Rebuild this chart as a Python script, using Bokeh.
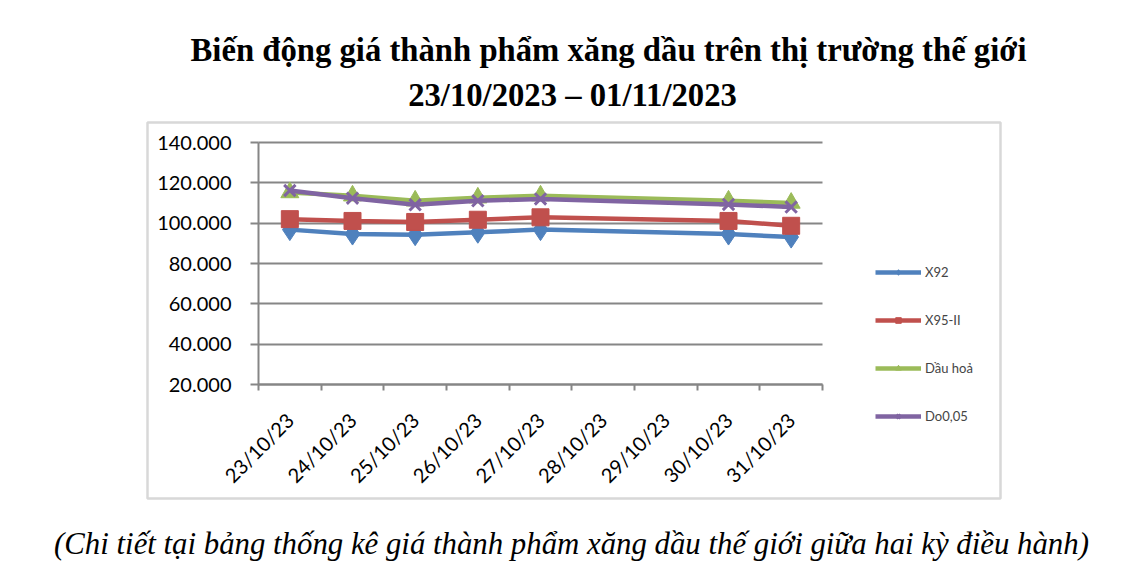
from bokeh.plotting import figure
from bokeh.models import (Range1d, FixedTicker, NumeralTickFormatter, Label, Legend,
                          LegendItem, BoxAnnotation)
from bokeh.embed import file_html
from bokeh.resources import INLINE

# --- data ---
dates = ["23/10/23", "24/10/23", "25/10/23", "26/10/23", "27/10/23",
         "28/10/23", "29/10/23", "30/10/23", "31/10/23"]
trade_days = ["23/10/23", "24/10/23", "25/10/23", "26/10/23", "27/10/23",
              "30/10/23", "31/10/23"]
x92 = [96.8, 94.6, 94.3, 95.5, 96.8, 94.6, 93.1]
x95 = [102.0, 101.1, 100.6, 101.7, 102.9, 101.1, 98.7]
dau_hoa = [115.2, 113.6, 111.1, 112.6, 113.6, 111.1, 110.0]
do005 = [116.2, 112.4, 109.1, 111.1, 112.0, 109.3, 108.0]
y_ticks = [20, 40, 60, 80, 100, 120, 140]

title1 = "Biến động giá thành phẩm xăng dầu trên thị trường thế giới"
title2 = "23/10/2023 \u2013 01/11/2023"
caption = "(Chi tiết tại bảng thống kê giá thành phẩm xăng dầu thế giới giữa hai kỳ điều hành)"

# page layout in pixels (frame = whole canvas, axes pinned inside it)
W, H = 1131, 565
PLOT_L, PLOT_R, PLOT_T, PLOT_B = 258, 822, 142, 384
BOX_L, BOX_R, BOX_T, BOX_B = 147, 1000, 122, 498
Y0, Y1 = y_ticks[0], y_ticks[-1]
N = len(dates)

GRID = "#868686"
SERIF = "Liberation Serif"
SANS = "Lato"

px_x = (PLOT_R - PLOT_L) / N
px_y = (PLOT_B - PLOT_T) / (Y1 - Y0)

p = figure(width=W, height=H, output_backend="svg", toolbar_location=None,
           x_range=Range1d(-PLOT_L / px_x, N + (W - PLOT_R) / px_x),
           y_range=Range1d(Y0 - (H - PLOT_B) / px_y, Y1 + PLOT_T / px_y),
           min_border=0)
p.outline_line_color = None


# page pixel -> data coordinate, for the texts and the box around the chart
def fx(px):
    return (px - PLOT_L) / px_x


def fy(py):
    return Y1 - (py - PLOT_T) / px_y


centers = [i + 0.5 for i in range(N)]
p.xaxis.fixed_location = Y0
p.xaxis.bounds = (0, N)
p.xaxis.ticker = FixedTicker(ticks=centers, minor_ticks=list(range(N + 1)))
p.xaxis.major_label_overrides = {c: d for c, d in zip(centers, dates)}
p.xaxis.major_label_orientation = 0.785398
p.xaxis.major_tick_line_color = None
p.xaxis.minor_tick_line_color = GRID
p.xaxis.minor_tick_line_width = 2
p.xaxis.minor_tick_out = 6
p.xaxis.minor_tick_in = 0
p.xaxis.major_label_standoff = 26
p.xaxis.axis_line_color = GRID
p.xaxis.axis_line_width = 2
p.xaxis.major_label_text_font = SANS
p.xaxis.major_label_text_font_size = "20px"
p.xaxis.major_label_text_color = "black"

p.yaxis.fixed_location = 0
p.yaxis.bounds = (Y0, Y1)
p.yaxis.ticker = FixedTicker(ticks=y_ticks, minor_ticks=[])
p.yaxis.formatter = NumeralTickFormatter(format="0.000")
p.yaxis.axis_line_color = GRID
p.yaxis.axis_line_width = 2
p.yaxis.major_tick_line_color = GRID
p.yaxis.major_tick_line_width = 2
p.yaxis.major_tick_out = 8
p.yaxis.major_tick_in = 0
p.yaxis.major_label_standoff = 19
p.yaxis.major_label_text_font = SANS
p.yaxis.major_label_text_font_size = "20px"
p.yaxis.major_label_text_color = "black"

p.xgrid.grid_line_color = None
p.ygrid.grid_line_color = GRID
p.ygrid.grid_line_width = 2
p.ygrid.bounds = (Y0, Y1)
p.ygrid.cross_bounds = (0, N)

xs = [dates.index(d) + 0.5 for d in trade_days]

series = [
    ("X92", x92, "#4F81BD", "diamond", 22),
    ("X95-II", x95, "#C0504D", "square", 17),
    ("Dầu hoả", dau_hoa, "#9BBB59", "triangle", 18),
    ("Do0,05", do005, "#8064A2", "x", 16),
]

items = []
for name, ys, color, marker, size in series:
    ln = p.line(xs, ys, line_color=color, line_width=4.5)
    sc = p.scatter(xs, ys, marker=marker, size=size, fill_color=color,
                   line_color=color, line_width=3 if marker == "x" else 1)
    items.append(LegendItem(label=name, renderers=[ln, sc]))

legend = Legend(items=items, location=(875, 141), orientation="vertical",
                glyph_width=46, glyph_height=14, label_height=14,
                label_standoff=4, spacing=32, padding=0, margin=0,
                border_line_color=None, background_fill_alpha=0,
                label_text_font=SANS, label_text_font_size="13px")
p.add_layout(legend, "center")

# grey box round the chart area
p.add_layout(BoxAnnotation(left=fx(BOX_L), right=fx(BOX_R), top=fy(BOX_T), bottom=fy(BOX_B),
                           fill_alpha=0, line_color="#7f7f7f", line_width=2.5))

# titles and caption
p.add_layout(Label(x=fx(608), y=fy(49), text=title1, text_align="center",
                   text_baseline="alphabetic", text_font=SERIF, text_font_style="bold",
                   text_font_size="32.7px", text_color="black"))
p.add_layout(Label(x=fx(572), y=fy(94), text=title2, text_align="center",
                   text_baseline="alphabetic", text_font=SERIF, text_font_style="bold",
                   text_font_size="32.7px", text_color="black"))
p.add_layout(Label(x=fx(571), y=fy(543), text=caption, text_align="center",
                   text_baseline="alphabetic", text_font=SERIF, text_font_style="italic",
                   text_font_size="30.8px", text_color="black"))

open("out.html", "w").write(file_html(p, INLINE))
